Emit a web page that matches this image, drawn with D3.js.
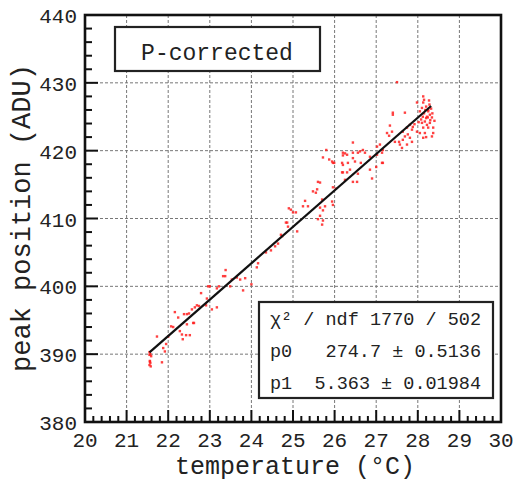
<!DOCTYPE html>
<html>
<head>
<meta charset="utf-8">
<script src="https://cdn.jsdelivr.net/npm/d3@7"></script>
<style>
  html, body { margin: 0; padding: 0; background: #fff; }
  svg { display: block; }
  text { font-family: "Liberation Mono", "Courier New", monospace; fill: #222; }
</style>
</head>
<body>
<svg id="chart" width="515" height="483"></svg>
<script>
// ---------------- data ----------------
const xTicks = [20, 21, 22, 23, 24, 25, 26, 27, 28, 29, 30];
const yTicks = [380, 390, 400, 410, 420, 430, 440];
const xGrid = [21, 22, 23, 24, 25, 26, 27, 28, 29];
const yGrid = [390, 400, 410, 420, 430];

const temps = [
  21.55, 21.57, 21.59, 21.55, 21.56, 21.57, 21.55, 21.58, 21.56,
  21.73, 21.85, 21.92, 21.88, 21.95, 22.00, 22.07, 22.12, 22.28, 22.35,
  22.24, 22.38, 22.45, 22.45, 22.43, 22.33, 22.52, 22.57, 22.64, 22.69,
  22.62, 22.79, 22.93, 22.96, 23.00, 23.05, 23.17, 23.22, 23.32, 23.38,
  23.37, 23.53, 23.49, 23.65, 23.73, 23.80, 23.85, 23.17, 22.16, 22.74,
  22.91, 22.50, 22.60,
  24.00, 24.13, 24.16, 24.35, 24.47, 24.57, 24.64, 24.71, 24.86, 24.90, 24.74, 24.83,
  24.95, 25.00, 25.07, 25.10, 25.24, 25.29, 25.36, 25.48, 25.55, 25.60, 25.65,
  25.65, 25.60, 25.72, 25.70, 25.72, 25.77, 25.65, 25.96, 26.03, 25.94, 25.96,
  25.72, 25.87, 25.94, 25.99, 26.18, 26.20, 26.25, 26.20, 26.25, 25.80, 25.96,
  25.58, 25.70, 24.88,
  26.30, 26.44, 26.61, 26.56, 26.68, 26.73, 26.44, 26.20, 27.02, 27.14,
  26.49, 26.63, 26.32, 27.14, 27.00, 27.16, 26.20, 26.37, 26.30, 26.56,
  26.85, 26.18, 26.90, 26.44, 26.54, 26.44, 27.09, 27.02, 27.26, 27.31,
  27.38, 27.33, 27.40, 27.55, 26.85, 27.16,
  27.50, 28.13, 27.98, 28.13, 28.10, 28.20, 28.25, 28.29, 28.22, 28.34,
  28.17, 28.10, 28.29, 28.37, 28.25, 28.13, 28.17, 28.05, 27.98, 27.88,
  27.81, 27.74, 27.86, 27.69, 27.64, 27.76, 27.69, 27.81, 27.64, 27.86,
  28.13, 28.34, 27.74, 27.45, 27.40, 27.57, 27.62,
  28.15, 28.20, 28.25, 28.30, 28.18, 28.22, 28.28, 28.12, 28.08, 28.35,
  28.32, 28.40, 28.05, 28.27, 28.15, 28.37, 28.20, 28.02, 27.92, 28.24
];
const peaks = [
  390.3, 390.0, 389.7, 389.9, 389.0, 388.7, 388.4, 388.2, 388.9,
  392.6, 388.8, 390.4, 390.9, 391.5, 392.6, 394.1, 394.0, 393.4, 392.2,
  395.4, 395.9, 395.9, 394.4, 392.8, 392.9, 392.8, 396.6, 396.9, 397.2,
  394.6, 399.0, 398.2, 400.0, 400.0, 396.6, 396.9, 400.0, 401.5, 402.4,
  401.5, 401.0, 400.0, 401.3, 401.0, 399.4, 401.2, 399.7, 396.2, 397.1,
  397.2, 396.0, 394.6,
  400.3, 402.8, 403.4, 405.0, 405.3, 405.9, 406.3, 407.6, 409.4, 411.5, 407.4, 409.4,
  411.3, 410.9, 410.9, 408.1, 411.8, 412.6, 411.8, 414.0, 413.8, 415.4, 415.3,
  411.6, 409.9, 411.2, 409.1, 409.7, 411.8, 410.4, 414.6, 414.4, 412.5, 412.0,
  419.0, 418.7, 418.4, 418.2, 418.2, 419.3, 419.6, 416.8, 415.7, 420.1, 418.2,
  414.3, 412.8, 408.8,
  419.4, 421.2, 419.9, 419.7, 420.1, 419.7, 419.7, 419.7, 419.4, 419.7,
  418.4, 418.2, 418.2, 418.2, 417.6, 418.2, 417.9, 417.2, 416.8, 416.6,
  417.2, 416.8, 415.9, 415.4, 415.4, 418.9, 420.9, 420.6, 422.6, 422.2,
  422.8, 423.7, 425.3, 421.3, 419.1, 420.1,
  430.1, 428.0, 427.1, 427.1, 426.3, 426.5, 426.0, 425.3, 425.0, 424.9,
  424.3, 424.1, 424.1, 423.4, 423.4, 423.4, 422.6, 422.6, 422.8, 423.5,
  423.8, 423.4, 423.1, 425.6, 422.8, 422.4, 422.1, 421.9, 421.6, 421.3,
  421.9, 422.1, 420.9, 421.3, 425.6, 420.9, 420.4,
  425.5, 424.8, 425.8, 424.5, 426.0, 423.8, 426.8, 425.0, 424.6, 425.5,
  426.2, 424.4, 425.8, 427.4, 427.5, 422.6, 422.0, 424.2, 423.9, 424.9
];

const fitRange = [21.55, 28.32];
const fitP0 = 274.7;
const fitP1 = 5.363;
const statRows = [
  { label: "\u03c7\u00b2 / ndf", value: "1770 / 502" },
  { label: "p0", value: "274.7 \u00b1 0.5136" },
  { label: "p1", value: "5.363 \u00b1 0.01984" }
];
const titleText = "P-corrected";
const xTitle = "temperature (\u00b0C)";
const yTitle = "peak position (ADU)";

// ---------------- layout ----------------
const L = 85, R = 501, T = 15, B = 422;
const svg = d3.select("#chart");
const x = d3.scaleLinear().domain([20, 30]).range([L, R]);
const y = d3.scaleLinear().domain([380, 440]).range([B, T]);

// grid
const grid = svg.append("g");
grid.selectAll("line.gx").data(xGrid).join("line")
  .attr("x1", d => x(d)).attr("x2", d => x(d))
  .attr("y1", T).attr("y2", B)
  .attr("stroke", "#777").attr("stroke-width", 1).attr("stroke-dasharray", "3,2");
grid.selectAll("line.gy").data(yGrid).join("line")
  .attr("y1", d => y(d)).attr("y2", d => y(d))
  .attr("x1", L).attr("x2", R)
  .attr("stroke", "#777").attr("stroke-width", 1).attr("stroke-dasharray", "3,2");

// points
const pts = temps.map((t, i) => [t, peaks[i]]);
svg.append("g").selectAll("rect").data(pts).join("rect")
  .attr("x", d => x(d[0]) - 1.2).attr("y", d => y(d[1]) - 1.2)
  .attr("width", 2.4).attr("height", 2.4)
  .attr("fill", "#ff2020").attr("opacity", 0.85);

// fit line
svg.append("line")
  .attr("x1", x(fitRange[0])).attr("y1", y(fitP0 + fitP1 * fitRange[0]))
  .attr("x2", x(fitRange[1])).attr("y2", y(fitP0 + fitP1 * fitRange[1]))
  .attr("stroke", "#111").attr("stroke-width", 2.2);

// frame
svg.append("rect").attr("x", L).attr("y", T).attr("width", R - L).attr("height", B - T)
  .attr("fill", "none").attr("stroke", "#111").attr("stroke-width", 2.6);

// ticks
const yMinor = d3.range(380, 440.01, 2);
svg.append("g").selectAll("line").data(yMinor).join("line")
  .attr("x1", L).attr("x2", d => L + (d % 10 === 0 ? 13 : 7))
  .attr("y1", d => y(d)).attr("y2", d => y(d))
  .attr("stroke", "#111").attr("stroke-width", 2);
const xMinor = d3.range(0, 51).map(i => 20 + i * 0.2);
svg.append("g").selectAll("line").data(xMinor).join("line")
  .attr("x1", d => x(d)).attr("x2", d => x(d))
  .attr("y1", B).attr("y2", (d, i) => B - (i % 5 === 0 ? 12 : 6))
  .attr("stroke", "#111").attr("stroke-width", 2);

// tick labels
svg.append("g").selectAll("text").data(yTicks).join("text")
  .attr("x", 77).attr("y", d => y(d) + 8)
  .attr("text-anchor", "end").attr("font-size", 21)
  .text(d => d);
svg.append("g").selectAll("text").data(xTicks).join("text")
  .attr("x", d => x(d)).attr("y", 447)
  .attr("text-anchor", "middle").attr("font-size", 21)
  .text(d => d);

// axis titles
svg.append("text").attr("x", 295).attr("y", 474)
  .attr("text-anchor", "middle").attr("font-size", 25).text(xTitle);
svg.append("text").attr("transform", "translate(30,218) rotate(-90)")
  .attr("text-anchor", "middle").attr("font-size", 27).text(yTitle);

// title box
svg.append("rect").attr("x", 115).attr("y", 27).attr("width", 205).attr("height", 44)
  .attr("fill", "#fff").attr("stroke", "#222").attr("stroke-width", 2.2);
svg.append("text").attr("x", 217).attr("y", 60).attr("text-anchor", "middle")
  .attr("font-size", 23).text(titleText);

// stats box
svg.append("rect").attr("x", 259).attr("y", 302).attr("width", 234).attr("height", 96)
  .attr("fill", "#fff").attr("stroke", "#222").attr("stroke-width", 2.2);
const rowY = [325, 357, 389];
const sg = svg.append("g");
sg.selectAll("text.l").data(statRows).join("text")
  .attr("x", 270).attr("y", (d, i) => rowY[i]).attr("font-size", 18.5).text(d => d.label);
sg.selectAll("text.v").data(statRows).join("text")
  .attr("x", 481).attr("y", (d, i) => rowY[i]).attr("text-anchor", "end")
  .attr("font-size", 18.5).text(d => d.value);
</script>
</body>
</html>
